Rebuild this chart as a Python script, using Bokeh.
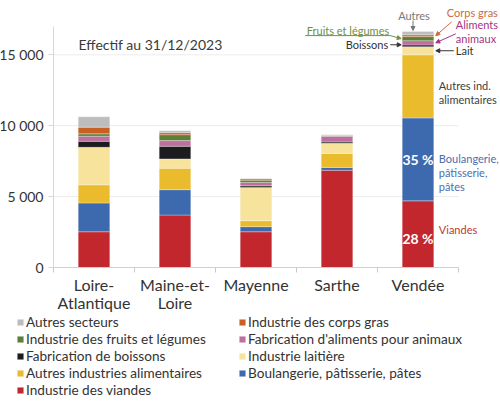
import numpy as np
from bokeh.plotting import figure
from bokeh.models import (ColumnDataSource, FixedTicker, Legend, LegendItem,
                          Label, Arrow, NormalHead, Range1d)
from bokeh.embed import file_html
from bokeh.resources import INLINE

# Départements and employment by sector (stack order, bottom to top)
departements = ["Loire-\nAtlantique", "Maine-et-\nLoire", "Mayenne", "Sarthe", "Vendée"]
viandes = [2520, 3700, 2520, 6860, 4700]
boulangerie = [2030, 1790, 360, 200, 5850]
autres_ind = [1280, 1510, 420, 980, 4450]
laitiere = [2650, 660, 2350, 730, 580]
boissons = [420, 890, 110, 90, 120]
animaux = [360, 400, 240, 400, 300]
fruits = [170, 420, 160, 30, 290]
corps_gras = [470, 140, 90, 40, 120]
autres = [730, 140, 30, 30, 240]

series_keys = ["viandes", "boulangerie", "autres_ind", "laitiere", "boissons",
               "animaux", "fruits", "corps_gras", "autres"]
series_values = [viandes, boulangerie, autres_ind, laitiere, boissons,
                 animaux, fruits, corps_gras, autres]
legend_labels = ["Industrie des viandes", "Boulangerie, pâtisserie, pâtes",
                 "Autres industries alimentaires", "Industrie laitière",
                 "Fabrication de boissons", "Fabrication d'aliments pour animaux",
                 "Industrie des fruits et légumes", "Industrie des corps gras",
                 "Autres secteurs"]
colors = ["#c1272d", "#3d6aae", "#ebbb2e", "#f7e39b", "#1c1c1e",
          "#bf6f9f", "#5e7f38", "#c95f22", "#bdbdbd"]

y_ticks = [0, 5000, 10000, 15000]
y_tick_labels = ["0", "5 000", "10 000", "15 000"]

FONT = "Lato"
NOTE_SIZE = "11px"
Y_MAX = 17000
BAR_W = 0.39
N = len(departements)

# pixel geometry: the axes occupy a 405 x 241 box inside the 500 x 407 canvas
W, H = 500, 407
PLOT_W, PLOT_H = 405, 241
LEFT, TOP = 53, 26
BOTTOM = H - TOP - PLOT_H
px_x = N / PLOT_W                  # data units per pixel (x)
px_y = Y_MAX / PLOT_H              # data units per pixel (y)

x = list(range(N))
data = {"x": x}
for k, v in zip(series_keys, series_values):
    data[k] = v
source = ColumnDataSource(data)

p = figure(width=W, height=H, output_backend="svg", toolbar_location=None,
           x_range=Range1d(-0.5 - LEFT * px_x, -0.5 + (W - LEFT) * px_x),
           y_range=Range1d(-BOTTOM * px_y, Y_MAX + TOP * px_y),
           min_border=0)
p.outline_line_color = None
p.background_fill_color = "white"

# horizontal grid lines limited to the axis extent
p.segment(x0=-0.5, x1=N - 0.5, y0=y_ticks[1:], y1=y_ticks[1:],
          line_color="#ececec", line_width=1, level="underlay")

renderers = p.vbar_stack(series_keys, x="x", width=BAR_W, color=colors,
                         line_color="white", line_width=0.6, line_alpha=0.5,
                         source=source)

# axes, pinned to the data origin
p.xaxis.fixed_location = 0
p.xaxis.ticker = FixedTicker(ticks=x, minor_ticks=[i - 0.5 for i in range(N + 1)])
p.xaxis.bounds = (-0.5, N - 0.5)
p.xaxis.major_label_overrides = {i: d for i, d in enumerate(departements)}
p.xaxis.major_tick_line_color = None
p.xaxis.minor_tick_line_color = "#c8c8c8"
p.xaxis.minor_tick_out = 5
p.xaxis.minor_tick_in = 0
p.xaxis.axis_line_color = "#d0d0d0"
p.xaxis.major_label_text_font = FONT
p.xaxis.major_label_text_font_size = "16px"
p.xaxis.major_label_text_color = "#333333"
p.xaxis.major_label_text_line_height = 0.95
p.xaxis.major_label_standoff = 1

p.yaxis.fixed_location = -0.5
p.yaxis.ticker = FixedTicker(ticks=y_ticks)
p.yaxis.bounds = (0, Y_MAX)
p.yaxis.major_label_overrides = {t: l for t, l in zip(y_ticks, y_tick_labels)}
p.yaxis.major_tick_line_color = "#d8d8d8"
p.yaxis.major_tick_out = 5
p.yaxis.major_tick_in = 0
p.yaxis.minor_tick_line_color = None
p.yaxis.axis_line_color = "#d8d8d8"
p.yaxis.major_label_text_font = FONT
p.yaxis.major_label_text_font_size = "14px"
p.yaxis.major_label_text_color = "#333333"
p.yaxis.major_label_standoff = 5

p.xgrid.grid_line_color = None
p.ygrid.grid_line_color = None

# title inside the axes
p.add_layout(Label(x=-0.5 + 25 * px_x, y=Y_MAX - 18 * px_y, text="Effectif au 31/12/2023",
                   text_font=FONT, text_font_size="14px", text_color="#3a3a3a",
                   text_baseline="middle"))

# annotations for the last bar (Vendée)
iv = N - 1
vals = np.array([s[iv] for s in series_values], dtype=float)
tops = np.cumsum(vals)
bottoms = tops - vals
mids = (tops + bottoms) / 2
total = tops[-1]
xl = iv - BAR_W / 2
xr = iv + BAR_W / 2


def lab(xd, yd, text, color, dx=0, dy=0, align="left", size=NOTE_SIZE, bold=False,
        baseline="middle"):
    p.add_layout(Label(x=xd, y=yd, x_offset=dx, y_offset=dy, text=text,
                       text_color=color, text_font=FONT, text_font_size=size,
                       text_align=align, text_baseline=baseline,
                       text_font_style="bold" if bold else "normal",
                       text_line_height=1.1))


def arrow(x0, y0, x1, y1, color, head=True):
    p.add_layout(Arrow(x_start=x0, y_start=y0, x_end=x1, y_end=y1,
                       line_color=color, line_width=1,
                       end=NormalHead(size=4, fill_color=color, line_color=color) if head else None))


# percentages inside the two largest segments
for k in (0, 1):
    pct = round(100 * vals[k] / total)
    lab(iv, mids[k], f"{pct} %", "white", align="center", size="14px", bold=True,
        dy=-4 if k == 0 else 0)

# labels to the right of big segments
lab(xr + 5 * px_x, mids[0], "Viandes", "#c0392b", dy=5)
lab(xr + 5 * px_x, mids[1], "Boulangerie,\npâtisserie,\npâtes", "#4a6eb0", dy=-13)
lab(xr + 5 * px_x, mids[2], "Autres ind.\nalimentaires", "#404040", dy=-6)

# small segments at the top
c_lait, c_bois, c_anim, c_fruit, c_gras, c_aut = 3, 4, 5, 6, 7, 8
arrow(xr + 20 * px_x, mids[c_lait], xr + 2 * px_x, mids[c_lait], "#333333")
lab(xr + 22 * px_x, mids[c_lait], "Lait", "#333333")

arrow(xl - 12 * px_x, mids[c_bois] + 1 * px_y, xl - 1 * px_x, mids[c_bois] + 1 * px_y, "#333333")
lab(xl - 14 * px_x, mids[c_bois] + 1 * px_y, "Boissons", "#333333", align="right")

arrow(xl - 97 * px_x, mids[c_fruit] + 3 * px_y, xl - 12 * px_x, mids[c_fruit] + 3 * px_y,
      "#6f8f47", head=False)
arrow(xl - 12 * px_x, mids[c_fruit] + 3 * px_y, xl - 1 * px_x, mids[c_fruit], "#6f8f47")
lab(xl - 13 * px_x, mids[c_fruit], "Fruits et légumes", "#6f8f47", align="right", dy=8)

arrow(xr + 18 * px_x, mids[c_gras] + 14 * px_y, xr + 2 * px_x, mids[c_gras], "#d0693c")
lab(xr + 13 * px_x, mids[c_gras], "Corps gras", "#d0693c", dy=23)

arrow(xr + 22 * px_x, mids[c_anim] + 9 * px_y, xr + 2 * px_x, mids[c_anim], "#a8337f")
lab(xr + 22 * px_x, mids[c_anim], "Aliments\nanimaux", "#a8337f", dy=11)

arrow(iv - 5 * px_x, tops[c_aut] + 11 * px_y, iv - 5 * px_x, tops[c_aut] + 1 * px_y, "#777777")
lab(iv - 4 * px_x, tops[c_aut], "Autres", "#777777", align="center", dy=16)

# legend: top of the stack first, read row by row over two columns
order = list(reversed(range(len(series_keys))))
col_a, col_b = order[0::2], order[1::2]
ROW_H = 17


def make_legend(idx, loc):
    items = [LegendItem(label=legend_labels[i], renderers=[renderers[i]]) for i in idx]
    return Legend(items=items, orientation="vertical", location=loc,
                  label_text_font=FONT, label_text_font_size="13.6px",
                  label_text_color="#333333", glyph_width=8, glyph_height=8,
                  label_standoff=2, spacing=0, padding=0, margin=0,
                  label_height=ROW_H, border_line_color=None,
                  background_fill_alpha=0)


p.add_layout(make_legend(col_a, (16, 9)), "center")
p.add_layout(make_legend(col_b, (238, 9 + ROW_H)), "center")

open("out.html", "w").write(file_html(p, INLINE))
